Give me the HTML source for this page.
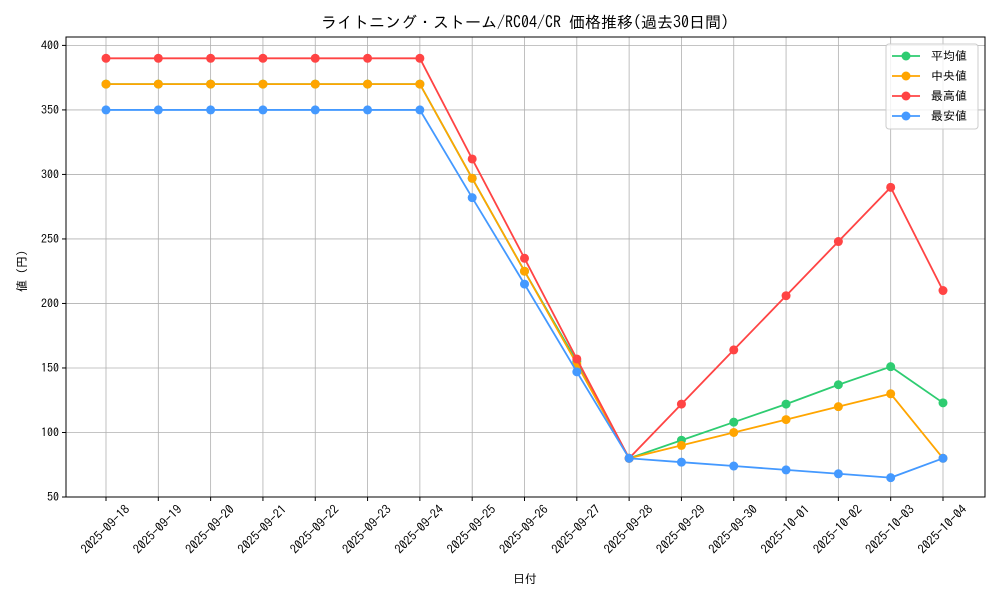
<!DOCTYPE html>
<html><head><meta charset="utf-8"><style>
body{margin:0;background:#fff}
svg{display:block;font-family:"IPAGothic","Noto Sans CJK JP","Liberation Sans",sans-serif}
</style></head><body>
<svg id="s" width="1000" height="600" viewBox="0 0 1000 600" xmlns="http://www.w3.org/2000/svg">
<rect width="1000" height="600" fill="#fff"/>
<text x="525" y="28" font-size="16" text-anchor="middle" fill="#000">ライトニング・ストーム/RC04/CR 価格推移(過去30日間)</text>
<g id="g"></g>
<text x="525" y="583" font-size="12" text-anchor="middle">日付</text>
<text transform="translate(26,271) rotate(-90)" font-size="12" text-anchor="middle">値 (円)</text>
</svg>
<script>
const g=document.getElementById('g');
const L=66,R=985,T=37,B=497;
const X=i=>106+i*52.3125, Y=v=>45.4+(400-v)*1.2903;
let h='';
const dates=['09-18','09-19','09-20','09-21','09-22','09-23','09-24','09-25','09-26','09-27','09-28','09-29','09-30','10-01','10-02','10-03','10-04'].map(d=>'2025-'+d);
for(let i=0;i<17;i++){const x=X(i);
h+=`<line x1="${x}" y1="${T}" x2="${x}" y2="${B}" stroke="#b0b0b0" stroke-width="0.8"/>`;
h+=`<line x1="${x}" y1="${B}" x2="${x}" y2="${B+4}" stroke="#000"/>`;
h+=`<text transform="translate(${x},${B+33}) rotate(-45)" font-size="12.5" text-anchor="middle" dominant-baseline="middle">${dates[i]}</text>`;}
for(let v=50;v<=400;v+=50){const y=Y(v);
h+=`<line x1="${L}" y1="${y}" x2="${R}" y2="${y}" stroke="#b0b0b0" stroke-width="0.8"/>`;
h+=`<line x1="${L-4}" y1="${y}" x2="${L}" y2="${y}" stroke="#000"/>`;
h+=`<text x="${L-7}" y="${y+4}" font-size="12" text-anchor="end">${v}</text>`;}
const S=[
['#2ecc71','平均値',[370,370,370,370,370,370,370,297,225,155,80,94,108,122,137,151,123]],
['#ffa500','中央値',[370,370,370,370,370,370,370,297,225,153,80,90,100,110,120,130,80]],
['#ff4444','最高値',[390,390,390,390,390,390,390,312,235,157,80,122,164,206,248,290,210]],
['#4499ff','最安値',[350,350,350,350,350,350,350,282,215,147,80,77,74,71,68,65,80]]];
S.forEach(([c,n,d])=>{
h+=`<polyline fill="none" stroke="${c}" stroke-width="1.8" points="${d.map((v,i)=>X(i)+','+Y(v)).join(' ')}"/>`;
d.forEach((v,i)=>h+=`<circle cx="${X(i)}" cy="${Y(v)}" r="4.5" fill="${c}"/>`);});
h+=`<rect x="${L}" y="${T}" width="${R-L}" height="${B-T}" fill="none" stroke="#000" stroke-width="1"/>`;
h+=`<rect x="886" y="44" width="92" height="85" fill="#fff" fill-opacity="0.8" stroke="#ccc" rx="3"/>`;
S.forEach(([c,n],k)=>{const y=56+k*20;
h+=`<line x1="892" y1="${y}" x2="920" y2="${y}" stroke="${c}" stroke-width="1.8"/><circle cx="906" cy="${y}" r="4.5" fill="${c}"/>`;
h+=`<text x="931" y="${y+4}" font-size="12">${n}</text>`;});
g.innerHTML=h;
</script>
</body></html>
